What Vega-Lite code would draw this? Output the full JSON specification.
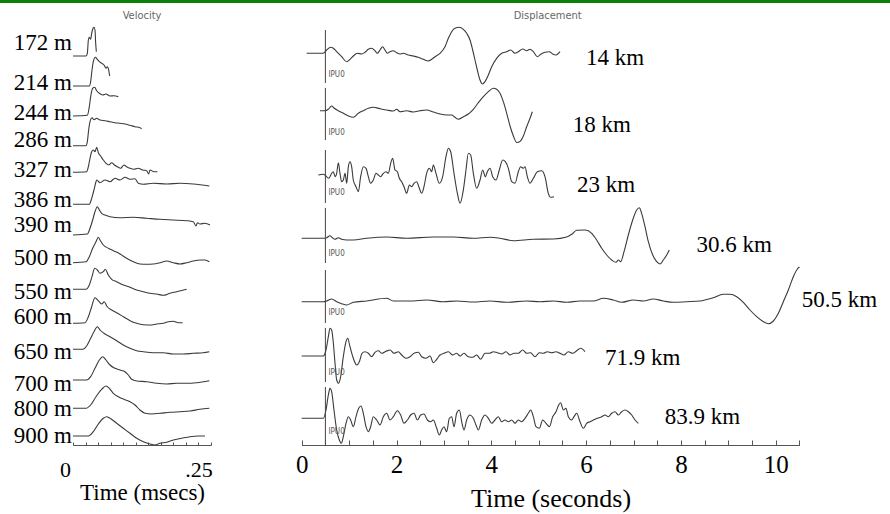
{
"$schema": "https://vega.github.io/schema/vega-lite/v6.json",
"width": 890, "height": 445,
"autosize": {"type": "none"},
"padding": {"left": 0, "top": 0, "right": 0, "bottom": 69},
"background": "white",
"config": {"view": {"stroke": null}},
"datasets": {
"vel": [
{"s":"172 m","t":0,"v":389},{"s":"172 m","t":0.0259,"v":389},{"s":"172 m","t":0.0286,"v":391.7},{"s":"172 m","t":0.0306,"v":405},{"s":"172 m","t":0.0325,"v":407.7},{"s":"172 m","t":0.0352,"v":405.7},{"s":"172 m","t":0.0372,"v":411.7},{"s":"172 m","t":0.0392,"v":415.7},{"s":"172 m","t":0.0418,"v":417.7},{"s":"172 m","t":0.0438,"v":415},{"s":"172 m","t":0.0452,"v":401.7},{"s":"172 m","t":0.0465,"v":393.3},
{"s":"214 m","t":0,"v":359},{"s":"214 m","t":0.0325,"v":359},{"s":"214 m","t":0.0352,"v":363.3},{"s":"214 m","t":0.0379,"v":375},{"s":"214 m","t":0.0405,"v":383.3},{"s":"214 m","t":0.0445,"v":387.7},{"s":"214 m","t":0.0485,"v":385.7},{"s":"214 m","t":0.0525,"v":383.3},{"s":"214 m","t":0.0571,"v":381.7},{"s":"214 m","t":0.0618,"v":380},{"s":"214 m","t":0.0658,"v":376.7},{"s":"214 m","t":0.0684,"v":378.3},{"s":"214 m","t":0.0711,"v":375},{"s":"214 m","t":0.0731,"v":369},
{"s":"244 m","t":0,"v":329},{"s":"244 m","t":0.0286,"v":329.7},{"s":"244 m","t":0.0325,"v":338.3},{"s":"244 m","t":0.0352,"v":348.3},{"s":"244 m","t":0.0392,"v":356.7},{"s":"244 m","t":0.0432,"v":357.7},{"s":"244 m","t":0.0472,"v":354.3},{"s":"244 m","t":0.0525,"v":351.7},{"s":"244 m","t":0.0591,"v":350},{"s":"244 m","t":0.0658,"v":351},{"s":"244 m","t":0.0737,"v":349},{"s":"244 m","t":0.0817,"v":349.3},{"s":"244 m","t":0.0903,"v":348.3},
{"s":"286 m","t":0,"v":299.3},{"s":"286 m","t":0.0259,"v":299.3},{"s":"286 m","t":0.0286,"v":303.3},{"s":"286 m","t":0.0312,"v":315},{"s":"286 m","t":0.0339,"v":323.3},{"s":"286 m","t":0.0379,"v":327.3},{"s":"286 m","t":0.0418,"v":325.3},{"s":"286 m","t":0.0472,"v":326.7},{"s":"286 m","t":0.0538,"v":325},{"s":"286 m","t":0.0638,"v":324.3},{"s":"286 m","t":0.0737,"v":323.3},{"s":"286 m","t":0.0837,"v":322.3},{"s":"286 m","t":0.0937,"v":321.7},{"s":"286 m","t":0.1036,"v":321},{"s":"286 m","t":0.1136,"v":319.7},{"s":"286 m","t":0.1236,"v":318.3},{"s":"286 m","t":0.1335,"v":317.3},{"s":"286 m","t":0.1368,"v":316.3},
{"s":"327 m","t":0,"v":272.7},{"s":"327 m","t":0.0272,"v":273.3},{"s":"327 m","t":0.0306,"v":278.3},{"s":"327 m","t":0.0339,"v":286.7},{"s":"327 m","t":0.0372,"v":293.3},{"s":"327 m","t":0.0405,"v":295},{"s":"327 m","t":0.0438,"v":293.3},{"s":"327 m","t":0.0472,"v":297.7},{"s":"327 m","t":0.0505,"v":292.3},{"s":"327 m","t":0.0551,"v":289},{"s":"327 m","t":0.0604,"v":285},{"s":"327 m","t":0.0658,"v":281.7},{"s":"327 m","t":0.0711,"v":280},{"s":"327 m","t":0.0771,"v":282.3},{"s":"327 m","t":0.0824,"v":280},{"s":"327 m","t":0.0883,"v":278.3},{"s":"327 m","t":0.095,"v":276.7},{"s":"327 m","t":0.1016,"v":280},{"s":"327 m","t":0.1069,"v":278.3},{"s":"327 m","t":0.1136,"v":276.7},{"s":"327 m","t":0.1216,"v":275.7},{"s":"327 m","t":0.1302,"v":276.7},{"s":"327 m","t":0.1388,"v":275},{"s":"327 m","t":0.1468,"v":274.3},{"s":"327 m","t":0.1508,"v":271},{"s":"327 m","t":0.1534,"v":275},{"s":"327 m","t":0.1614,"v":273.3},{"s":"327 m","t":0.1681,"v":273.3},
{"s":"386 m","t":0,"v":240.7},{"s":"386 m","t":0.0325,"v":240.7},{"s":"386 m","t":0.0372,"v":246.7},{"s":"386 m","t":0.0418,"v":255},{"s":"386 m","t":0.0458,"v":263.3},{"s":"386 m","t":0.0472,"v":265},{"s":"386 m","t":0.0538,"v":262.3},{"s":"386 m","t":0.0638,"v":265},{"s":"386 m","t":0.0737,"v":263.3},{"s":"386 m","t":0.0837,"v":266.7},{"s":"386 m","t":0.0937,"v":265},{"s":"386 m","t":0.1036,"v":267.7},{"s":"386 m","t":0.1136,"v":265.7},{"s":"386 m","t":0.1236,"v":266.3},{"s":"386 m","t":0.1302,"v":261.7},{"s":"386 m","t":0.1402,"v":260.7},{"s":"386 m","t":0.1601,"v":261.7},{"s":"386 m","t":0.1867,"v":261},{"s":"386 m","t":0.2132,"v":261.7},{"s":"386 m","t":0.2398,"v":261},{"s":"386 m","t":0.2717,"v":259},
{"s":"390 m","t":0,"v":210},{"s":"390 m","t":0.0286,"v":211},{"s":"390 m","t":0.0339,"v":216.7},{"s":"390 m","t":0.0392,"v":225},{"s":"390 m","t":0.0438,"v":233.3},{"s":"390 m","t":0.0485,"v":238.3},{"s":"390 m","t":0.0525,"v":235},{"s":"390 m","t":0.0571,"v":231.7},{"s":"390 m","t":0.0638,"v":230},{"s":"390 m","t":0.0737,"v":228.3},{"s":"390 m","t":0.0937,"v":227.3},{"s":"390 m","t":0.1202,"v":227.7},{"s":"390 m","t":0.1468,"v":226.7},{"s":"390 m","t":0.1734,"v":225.7},{"s":"390 m","t":0.1999,"v":225},{"s":"390 m","t":0.2265,"v":224.3},{"s":"390 m","t":0.2398,"v":223.3},{"s":"390 m","t":0.2451,"v":219},{"s":"390 m","t":0.2478,"v":222.3},{"s":"390 m","t":0.2531,"v":221},{"s":"390 m","t":0.263,"v":221.7},{"s":"390 m","t":0.273,"v":220},
{"s":"500 m","t":0,"v":182.3},{"s":"500 m","t":0.0259,"v":183.3},{"s":"500 m","t":0.0325,"v":188.3},{"s":"500 m","t":0.0392,"v":196.7},{"s":"500 m","t":0.0458,"v":203.3},{"s":"500 m","t":0.0505,"v":207.7},{"s":"500 m","t":0.0538,"v":205},{"s":"500 m","t":0.0604,"v":200},{"s":"500 m","t":0.0704,"v":196.7},{"s":"500 m","t":0.0804,"v":194.3},{"s":"500 m","t":0.0937,"v":191},{"s":"500 m","t":0.1069,"v":186.7},{"s":"500 m","t":0.1202,"v":183.3},{"s":"500 m","t":0.1335,"v":181},{"s":"500 m","t":0.1468,"v":180.7},{"s":"500 m","t":0.1601,"v":181},{"s":"500 m","t":0.1734,"v":182.3},{"s":"500 m","t":0.1867,"v":184},{"s":"500 m","t":0.1999,"v":182.3},{"s":"500 m","t":0.2132,"v":181},{"s":"500 m","t":0.2265,"v":182.3},{"s":"500 m","t":0.2398,"v":184},{"s":"500 m","t":0.2531,"v":185},{"s":"500 m","t":0.263,"v":185},{"s":"500 m","t":0.2717,"v":183.3},
{"s":"550 m","t":0,"v":155.7},{"s":"550 m","t":0.0259,"v":155.7},{"s":"550 m","t":0.0325,"v":160},{"s":"550 m","t":0.0379,"v":168.3},{"s":"550 m","t":0.0432,"v":176.7},{"s":"550 m","t":0.0485,"v":175},{"s":"550 m","t":0.0538,"v":171.7},{"s":"550 m","t":0.0604,"v":173.3},{"s":"550 m","t":0.0644,"v":175.7},{"s":"550 m","t":0.0704,"v":170},{"s":"550 m","t":0.0771,"v":165.7},{"s":"550 m","t":0.087,"v":163.3},{"s":"550 m","t":0.1003,"v":160},{"s":"550 m","t":0.1136,"v":157.7},{"s":"550 m","t":0.1269,"v":155},{"s":"550 m","t":0.1402,"v":153.3},{"s":"550 m","t":0.1534,"v":151.7},{"s":"550 m","t":0.1667,"v":151},{"s":"550 m","t":0.18,"v":149.7},{"s":"550 m","t":0.1933,"v":151.7},{"s":"550 m","t":0.2066,"v":153.3},{"s":"550 m","t":0.2199,"v":155},{"s":"550 m","t":0.2265,"v":155.7},
{"s":"600 m","t":0,"v":121.7},{"s":"600 m","t":0.0239,"v":122.3},{"s":"600 m","t":0.0306,"v":128.3},{"s":"600 m","t":0.0372,"v":138.3},{"s":"600 m","t":0.0438,"v":147.3},{"s":"600 m","t":0.0505,"v":144.3},{"s":"600 m","t":0.0571,"v":141},{"s":"600 m","t":0.0624,"v":143.3},{"s":"600 m","t":0.0671,"v":139},{"s":"600 m","t":0.0771,"v":135},{"s":"600 m","t":0.087,"v":132.3},{"s":"600 m","t":0.1003,"v":128.3},{"s":"600 m","t":0.1136,"v":124.3},{"s":"600 m","t":0.1269,"v":121.7},{"s":"600 m","t":0.1402,"v":120.3},{"s":"600 m","t":0.1534,"v":120},{"s":"600 m","t":0.1667,"v":121},{"s":"600 m","t":0.18,"v":121.7},{"s":"600 m","t":0.19,"v":123.3},{"s":"600 m","t":0.1999,"v":123.7},{"s":"600 m","t":0.2099,"v":122.3},{"s":"600 m","t":0.2185,"v":122.3},
{"s":"650 m","t":0,"v":95.7},{"s":"650 m","t":0.0193,"v":95.7},{"s":"650 m","t":0.0272,"v":99},{"s":"650 m","t":0.0352,"v":106.7},{"s":"650 m","t":0.0418,"v":113.3},{"s":"650 m","t":0.0485,"v":118.3},{"s":"650 m","t":0.0538,"v":115},{"s":"650 m","t":0.0638,"v":111},{"s":"650 m","t":0.0737,"v":108.3},{"s":"650 m","t":0.087,"v":104.3},{"s":"650 m","t":0.1003,"v":100},{"s":"650 m","t":0.1136,"v":96.7},{"s":"650 m","t":0.1269,"v":94.3},{"s":"650 m","t":0.1402,"v":93.3},{"s":"650 m","t":0.1601,"v":92.3},{"s":"650 m","t":0.18,"v":92.3},{"s":"650 m","t":0.1999,"v":91},{"s":"650 m","t":0.2199,"v":91},{"s":"650 m","t":0.2398,"v":91.7},{"s":"650 m","t":0.2597,"v":92.3},{"s":"650 m","t":0.2717,"v":93.3},
{"s":"700 m","t":0,"v":65},{"s":"700 m","t":0.0272,"v":65},{"s":"700 m","t":0.0352,"v":68.3},{"s":"700 m","t":0.0438,"v":76.7},{"s":"700 m","t":0.0525,"v":85},{"s":"700 m","t":0.0591,"v":88.3},{"s":"700 m","t":0.0658,"v":85},{"s":"700 m","t":0.0737,"v":80},{"s":"700 m","t":0.0837,"v":76.7},{"s":"700 m","t":0.0937,"v":75},{"s":"700 m","t":0.1036,"v":73.3},{"s":"700 m","t":0.1103,"v":70},{"s":"700 m","t":0.1169,"v":65.7},{"s":"700 m","t":0.1269,"v":64},{"s":"700 m","t":0.1468,"v":63.3},{"s":"700 m","t":0.1667,"v":61.7},{"s":"700 m","t":0.1867,"v":61},{"s":"700 m","t":0.2066,"v":61.7},{"s":"700 m","t":0.2265,"v":61.7},{"s":"700 m","t":0.2464,"v":62.3},{"s":"700 m","t":0.2717,"v":64.3},
{"s":"800 m","t":0,"v":36.7},{"s":"800 m","t":0.0259,"v":36.7},{"s":"800 m","t":0.0352,"v":40},{"s":"800 m","t":0.0458,"v":48.3},{"s":"800 m","t":0.0571,"v":55.7},{"s":"800 m","t":0.0658,"v":59},{"s":"800 m","t":0.0724,"v":56.7},{"s":"800 m","t":0.0804,"v":51.7},{"s":"800 m","t":0.0903,"v":48.3},{"s":"800 m","t":0.1016,"v":45.7},{"s":"800 m","t":0.1136,"v":43.3},{"s":"800 m","t":0.1236,"v":40},{"s":"800 m","t":0.1335,"v":35},{"s":"800 m","t":0.1435,"v":31.7},{"s":"800 m","t":0.1568,"v":31},{"s":"800 m","t":0.1734,"v":31.7},{"s":"800 m","t":0.1933,"v":32.7},{"s":"800 m","t":0.2132,"v":33.3},{"s":"800 m","t":0.2332,"v":34},{"s":"800 m","t":0.2531,"v":35.7},{"s":"800 m","t":0.2717,"v":36.7},
{"s":"900 m","t":0,"v":9},{"s":"900 m","t":0.0306,"v":9},{"s":"900 m","t":0.0405,"v":13.3},{"s":"900 m","t":0.0505,"v":21},{"s":"900 m","t":0.0604,"v":26.7},{"s":"900 m","t":0.0671,"v":28.3},{"s":"900 m","t":0.0737,"v":26.7},{"s":"900 m","t":0.087,"v":21.7},{"s":"900 m","t":0.1003,"v":16.7},{"s":"900 m","t":0.1136,"v":11.7},{"s":"900 m","t":0.1269,"v":6.7},{"s":"900 m","t":0.1402,"v":3.3},{"s":"900 m","t":0.1534,"v":1},{"s":"900 m","t":0.1634,"v":0},{"s":"900 m","t":0.1734,"v":1.7},{"s":"900 m","t":0.1867,"v":2.7},{"s":"900 m","t":0.1999,"v":5},{"s":"900 m","t":0.2165,"v":6.7},{"s":"900 m","t":0.2332,"v":8.3},{"s":"900 m","t":0.2498,"v":9},{"s":"900 m","t":0.263,"v":9}
],
"disp": [
{"s":"14 km","t":0.105,"v":391.7},{"s":"14 km","t":0.456,"v":391.7},{"s":"14 km","t":0.527,"v":395},{"s":"14 km","t":0.611,"v":397.7},{"s":"14 km","t":0.667,"v":396.7},{"s":"14 km","t":0.738,"v":393.3},{"s":"14 km","t":0.843,"v":388.3},{"s":"14 km","t":0.949,"v":383.3},{"s":"14 km","t":1.019,"v":385.7},{"s":"14 km","t":1.089,"v":389},{"s":"14 km","t":1.174,"v":391.7},{"s":"14 km","t":1.265,"v":391},{"s":"14 km","t":1.335,"v":392.7},{"s":"14 km","t":1.406,"v":395.7},{"s":"14 km","t":1.476,"v":396.7},{"s":"14 km","t":1.546,"v":394.3},{"s":"14 km","t":1.596,"v":391.7},{"s":"14 km","t":1.652,"v":395},{"s":"14 km","t":1.708,"v":398.3},{"s":"14 km","t":1.757,"v":395},{"s":"14 km","t":1.807,"v":391.7},{"s":"14 km","t":1.863,"v":393.3},{"s":"14 km","t":1.933,"v":394.3},{"s":"14 km","t":2.003,"v":392.3},{"s":"14 km","t":2.074,"v":391},{"s":"14 km","t":2.144,"v":391.7},{"s":"14 km","t":2.25,"v":390},{"s":"14 km","t":2.355,"v":389},{"s":"14 km","t":2.461,"v":387.7},{"s":"14 km","t":2.566,"v":385.7},{"s":"14 km","t":2.672,"v":384},{"s":"14 km","t":2.742,"v":385.7},{"s":"14 km","t":2.812,"v":388.3},{"s":"14 km","t":2.918,"v":391.7},{"s":"14 km","t":3.023,"v":398.3},{"s":"14 km","t":3.094,"v":406.7},{"s":"14 km","t":3.164,"v":413.3},{"s":"14 km","t":3.234,"v":416.7},{"s":"14 km","t":3.326,"v":417.7},{"s":"14 km","t":3.41,"v":415.7},{"s":"14 km","t":3.48,"v":411.7},{"s":"14 km","t":3.551,"v":405},{"s":"14 km","t":3.607,"v":395},{"s":"14 km","t":3.656,"v":385},{"s":"14 km","t":3.705,"v":375},{"s":"14 km","t":3.762,"v":365},{"s":"14 km","t":3.811,"v":361},{"s":"14 km","t":3.867,"v":363.3},{"s":"14 km","t":3.938,"v":370},{"s":"14 km","t":4.008,"v":378.3},{"s":"14 km","t":4.113,"v":386.7},{"s":"14 km","t":4.219,"v":391.7},{"s":"14 km","t":4.324,"v":393.3},{"s":"14 km","t":4.409,"v":395},{"s":"14 km","t":4.5,"v":391.7},{"s":"14 km","t":4.57,"v":393.3},{"s":"14 km","t":4.662,"v":396},{"s":"14 km","t":4.746,"v":394.3},{"s":"14 km","t":4.816,"v":395.7},{"s":"14 km","t":4.887,"v":393.3},{"s":"14 km","t":4.972,"v":388.3},{"s":"14 km","t":5.042,"v":390.7},{"s":"14 km","t":5.133,"v":392.7},{"s":"14 km","t":5.225,"v":393.3},{"s":"14 km","t":5.295,"v":391},{"s":"14 km","t":5.365,"v":390},{"s":"14 km","t":5.45,"v":393.3},
{"s":"18 km","t":0.386,"v":334.3},{"s":"18 km","t":0.492,"v":334.3},{"s":"18 km","t":0.562,"v":335.7},{"s":"18 km","t":0.632,"v":339},{"s":"18 km","t":0.689,"v":336.7},{"s":"18 km","t":0.773,"v":334.3},{"s":"18 km","t":0.879,"v":331.7},{"s":"18 km","t":0.984,"v":329},{"s":"18 km","t":1.089,"v":327.7},{"s":"18 km","t":1.195,"v":331.7},{"s":"18 km","t":1.3,"v":334.3},{"s":"18 km","t":1.406,"v":336.7},{"s":"18 km","t":1.511,"v":337.7},{"s":"18 km","t":1.652,"v":336.3},{"s":"18 km","t":1.793,"v":335},{"s":"18 km","t":1.933,"v":334},{"s":"18 km","t":2.003,"v":335.7},{"s":"18 km","t":2.074,"v":333.3},{"s":"18 km","t":2.215,"v":334.3},{"s":"18 km","t":2.355,"v":333},{"s":"18 km","t":2.496,"v":334.3},{"s":"18 km","t":2.637,"v":335},{"s":"18 km","t":2.777,"v":333},{"s":"18 km","t":2.918,"v":331},{"s":"18 km","t":3.058,"v":330},{"s":"18 km","t":3.164,"v":330},{"s":"18 km","t":3.234,"v":327.7},{"s":"18 km","t":3.305,"v":325.7},{"s":"18 km","t":3.41,"v":328.3},{"s":"18 km","t":3.516,"v":331},{"s":"18 km","t":3.621,"v":335.7},{"s":"18 km","t":3.727,"v":342.3},{"s":"18 km","t":3.833,"v":348.3},{"s":"18 km","t":3.938,"v":353.3},{"s":"18 km","t":4.043,"v":356.7},{"s":"18 km","t":4.113,"v":355.7},{"s":"18 km","t":4.184,"v":351.7},{"s":"18 km","t":4.254,"v":343.3},{"s":"18 km","t":4.325,"v":331.7},{"s":"18 km","t":4.395,"v":319},{"s":"18 km","t":4.466,"v":309},{"s":"18 km","t":4.537,"v":302.5},{"s":"18 km","t":4.605,"v":303.5},{"s":"18 km","t":4.676,"v":309},{"s":"18 km","t":4.746,"v":318.3},{"s":"18 km","t":4.817,"v":326.7},{"s":"18 km","t":4.866,"v":333.3},
{"s":"23 km","t":0.351,"v":270},{"s":"23 km","t":0.456,"v":270.7},{"s":"23 km","t":0.513,"v":269},{"s":"23 km","t":0.562,"v":266.7},{"s":"23 km","t":0.597,"v":268.3},{"s":"23 km","t":0.632,"v":271.7},{"s":"23 km","t":0.668,"v":273.3},{"s":"23 km","t":0.703,"v":268.3},{"s":"23 km","t":0.738,"v":271.7},{"s":"23 km","t":0.773,"v":282.3},{"s":"23 km","t":0.808,"v":271.7},{"s":"23 km","t":0.843,"v":263.3},{"s":"23 km","t":0.878,"v":265},{"s":"23 km","t":0.914,"v":271.7},{"s":"23 km","t":0.949,"v":261.7},{"s":"23 km","t":0.984,"v":278.3},{"s":"23 km","t":1.019,"v":283.3},{"s":"23 km","t":1.054,"v":278.3},{"s":"23 km","t":1.089,"v":265},{"s":"23 km","t":1.146,"v":258.3},{"s":"23 km","t":1.195,"v":253.3},{"s":"23 km","t":1.244,"v":268.3},{"s":"23 km","t":1.3,"v":278.3},{"s":"23 km","t":1.357,"v":276.7},{"s":"23 km","t":1.406,"v":268.3},{"s":"23 km","t":1.455,"v":261.7},{"s":"23 km","t":1.511,"v":265},{"s":"23 km","t":1.568,"v":271.7},{"s":"23 km","t":1.617,"v":270},{"s":"23 km","t":1.666,"v":268.3},{"s":"23 km","t":1.722,"v":271.7},{"s":"23 km","t":1.779,"v":273.3},{"s":"23 km","t":1.828,"v":271.7},{"s":"23 km","t":1.877,"v":281.7},{"s":"23 km","t":1.919,"v":286.7},{"s":"23 km","t":1.968,"v":275},{"s":"23 km","t":2.018,"v":273.3},{"s":"23 km","t":2.06,"v":266.7},{"s":"23 km","t":2.109,"v":263.3},{"s":"23 km","t":2.158,"v":258.3},{"s":"23 km","t":2.215,"v":251.7},{"s":"23 km","t":2.271,"v":260},{"s":"23 km","t":2.32,"v":258.3},{"s":"23 km","t":2.37,"v":261.7},{"s":"23 km","t":2.425,"v":263.3},{"s":"23 km","t":2.482,"v":256.7},{"s":"23 km","t":2.531,"v":251.7},{"s":"23 km","t":2.58,"v":258.3},{"s":"23 km","t":2.636,"v":271.7},{"s":"23 km","t":2.693,"v":276.7},{"s":"23 km","t":2.742,"v":273.3},{"s":"23 km","t":2.777,"v":280},{"s":"23 km","t":2.833,"v":271.7},{"s":"23 km","t":2.904,"v":261.7},{"s":"23 km","t":2.974,"v":268.3},{"s":"23 km","t":3.044,"v":288.3},{"s":"23 km","t":3.094,"v":296.7},{"s":"23 km","t":3.143,"v":293.3},{"s":"23 km","t":3.213,"v":271.7},{"s":"23 km","t":3.284,"v":251.7},{"s":"23 km","t":3.34,"v":241.7},{"s":"23 km","t":3.41,"v":255},{"s":"23 km","t":3.466,"v":275},{"s":"23 km","t":3.516,"v":291.7},{"s":"23 km","t":3.565,"v":290},{"s":"23 km","t":3.621,"v":271.7},{"s":"23 km","t":3.692,"v":256.7},{"s":"23 km","t":3.762,"v":265},{"s":"23 km","t":3.818,"v":275},{"s":"23 km","t":3.874,"v":268.3},{"s":"23 km","t":3.917,"v":273.3},{"s":"23 km","t":3.973,"v":276.7},{"s":"23 km","t":4.029,"v":268.3},{"s":"23 km","t":4.099,"v":265},{"s":"23 km","t":4.169,"v":275},{"s":"23 km","t":4.24,"v":285},{"s":"23 km","t":4.296,"v":283.3},{"s":"23 km","t":4.36,"v":276.7},{"s":"23 km","t":4.43,"v":263.3},{"s":"23 km","t":4.5,"v":261.7},{"s":"23 km","t":4.57,"v":273.3},{"s":"23 km","t":4.62,"v":278.3},{"s":"23 km","t":4.676,"v":276.7},{"s":"23 km","t":4.711,"v":278.3},{"s":"23 km","t":4.76,"v":268.3},{"s":"23 km","t":4.817,"v":261.7},{"s":"23 km","t":4.887,"v":266.7},{"s":"23 km","t":4.972,"v":273.3},{"s":"23 km","t":5.063,"v":274.3},{"s":"23 km","t":5.133,"v":268.3},{"s":"23 km","t":5.203,"v":251.7},{"s":"23 km","t":5.253,"v":247.7},{"s":"23 km","t":5.323,"v":248.3},
{"s":"30.6 km","t":0,"v":206.7},{"s":"30.6 km","t":0.456,"v":206.7},{"s":"30.6 km","t":0.527,"v":207.3},{"s":"30.6 km","t":0.597,"v":209.3},{"s":"30.6 km","t":0.646,"v":207.3},{"s":"30.6 km","t":0.703,"v":205.7},{"s":"30.6 km","t":0.773,"v":207.3},{"s":"30.6 km","t":0.843,"v":205.7},{"s":"30.6 km","t":0.949,"v":205},{"s":"30.6 km","t":1.089,"v":205},{"s":"30.6 km","t":1.371,"v":206.7},{"s":"30.6 km","t":1.793,"v":208},{"s":"30.6 km","t":2.215,"v":206.7},{"s":"30.6 km","t":2.777,"v":208},{"s":"30.6 km","t":3.199,"v":208},{"s":"30.6 km","t":3.621,"v":206.7},{"s":"30.6 km","t":3.973,"v":207.7},{"s":"30.6 km","t":4.184,"v":206.7},{"s":"30.6 km","t":4.466,"v":204.3},{"s":"30.6 km","t":4.886,"v":205.7},{"s":"30.6 km","t":5.309,"v":206},{"s":"30.6 km","t":5.59,"v":208},{"s":"30.6 km","t":5.696,"v":210.7},{"s":"30.6 km","t":5.802,"v":214.7},{"s":"30.6 km","t":5.977,"v":215},{"s":"30.6 km","t":6.118,"v":211.7},{"s":"30.6 km","t":6.223,"v":205},{"s":"30.6 km","t":6.329,"v":196.7},{"s":"30.6 km","t":6.434,"v":190},{"s":"30.6 km","t":6.54,"v":185},{"s":"30.6 km","t":6.632,"v":182.7},{"s":"30.6 km","t":6.681,"v":185},{"s":"30.6 km","t":6.73,"v":183.3},{"s":"30.6 km","t":6.8,"v":193.3},{"s":"30.6 km","t":6.891,"v":210},{"s":"30.6 km","t":6.983,"v":225},{"s":"30.6 km","t":7.067,"v":235},{"s":"30.6 km","t":7.123,"v":237.3},{"s":"30.6 km","t":7.172,"v":231.7},{"s":"30.6 km","t":7.243,"v":218.3},{"s":"30.6 km","t":7.313,"v":203.3},{"s":"30.6 km","t":7.405,"v":190},{"s":"30.6 km","t":7.489,"v":183.3},{"s":"30.6 km","t":7.559,"v":181},{"s":"30.6 km","t":7.629,"v":185},{"s":"30.6 km","t":7.7,"v":190},{"s":"30.6 km","t":7.756,"v":195},
{"s":"50.5 km","t":0,"v":143.3},{"s":"50.5 km","t":0.456,"v":143.3},{"s":"50.5 km","t":0.527,"v":144},{"s":"50.5 km","t":0.632,"v":146},{"s":"50.5 km","t":0.738,"v":143.3},{"s":"50.5 km","t":0.843,"v":141.3},{"s":"50.5 km","t":0.949,"v":140},{"s":"50.5 km","t":1.089,"v":142.7},{"s":"50.5 km","t":1.371,"v":144},{"s":"50.5 km","t":1.793,"v":146.7},{"s":"50.5 km","t":1.933,"v":144},{"s":"50.5 km","t":2.285,"v":144},{"s":"50.5 km","t":2.637,"v":145},{"s":"50.5 km","t":2.988,"v":143.3},{"s":"50.5 km","t":3.27,"v":144},{"s":"50.5 km","t":3.621,"v":143},{"s":"50.5 km","t":3.973,"v":144},{"s":"50.5 km","t":4.324,"v":142.7},{"s":"50.5 km","t":4.746,"v":144},{"s":"50.5 km","t":5.027,"v":143.3},{"s":"50.5 km","t":5.309,"v":144},{"s":"50.5 km","t":5.59,"v":142.7},{"s":"50.5 km","t":5.871,"v":144},{"s":"50.5 km","t":6.153,"v":144},{"s":"50.5 km","t":6.364,"v":146.7},{"s":"50.5 km","t":6.575,"v":145},{"s":"50.5 km","t":6.751,"v":142.7},{"s":"50.5 km","t":6.997,"v":145},{"s":"50.5 km","t":7.208,"v":144},{"s":"50.5 km","t":7.418,"v":146},{"s":"50.5 km","t":7.629,"v":144},{"s":"50.5 km","t":7.84,"v":142.7},{"s":"50.5 km","t":8.122,"v":143.3},{"s":"50.5 km","t":8.403,"v":144},{"s":"50.5 km","t":8.684,"v":147.3},{"s":"50.5 km","t":8.895,"v":150.7},{"s":"50.5 km","t":9.036,"v":150.7},{"s":"50.5 km","t":9.177,"v":148.3},{"s":"50.5 km","t":9.318,"v":142.7},{"s":"50.5 km","t":9.458,"v":135},{"s":"50.5 km","t":9.599,"v":128.3},{"s":"50.5 km","t":9.74,"v":123.3},{"s":"50.5 km","t":9.845,"v":121.3},{"s":"50.5 km","t":9.951,"v":124},{"s":"50.5 km","t":10.056,"v":131.7},{"s":"50.5 km","t":10.161,"v":143.3},{"s":"50.5 km","t":10.267,"v":155},{"s":"50.5 km","t":10.372,"v":168.3},{"s":"50.5 km","t":10.457,"v":176},{"s":"50.5 km","t":10.5,"v":178},
{"s":"71.9 km","t":0,"v":89},{"s":"71.9 km","t":0.456,"v":89},{"s":"71.9 km","t":0.513,"v":95},{"s":"71.9 km","t":0.562,"v":108.3},{"s":"71.9 km","t":0.597,"v":116.7},{"s":"71.9 km","t":0.632,"v":115},{"s":"71.9 km","t":0.668,"v":101.7},{"s":"71.9 km","t":0.703,"v":81.7},{"s":"71.9 km","t":0.738,"v":65},{"s":"71.9 km","t":0.78,"v":61.7},{"s":"71.9 km","t":0.822,"v":68.3},{"s":"71.9 km","t":0.878,"v":88.3},{"s":"71.9 km","t":0.935,"v":103.3},{"s":"71.9 km","t":0.97,"v":106.7},{"s":"71.9 km","t":1.019,"v":98.3},{"s":"71.9 km","t":1.089,"v":86.7},{"s":"71.9 km","t":1.16,"v":80},{"s":"71.9 km","t":1.216,"v":83.3},{"s":"71.9 km","t":1.272,"v":91.7},{"s":"71.9 km","t":1.335,"v":93.3},{"s":"71.9 km","t":1.406,"v":91.7},{"s":"71.9 km","t":1.476,"v":88.3},{"s":"71.9 km","t":1.546,"v":92.7},{"s":"71.9 km","t":1.617,"v":94.3},{"s":"71.9 km","t":1.687,"v":91.7},{"s":"71.9 km","t":1.779,"v":93.7},{"s":"71.9 km","t":1.863,"v":95},{"s":"71.9 km","t":1.948,"v":91.7},{"s":"71.9 km","t":2.039,"v":93.3},{"s":"71.9 km","t":2.109,"v":90},{"s":"71.9 km","t":2.201,"v":86.7},{"s":"71.9 km","t":2.285,"v":88.3},{"s":"71.9 km","t":2.37,"v":91.7},{"s":"71.9 km","t":2.461,"v":92.7},{"s":"71.9 km","t":2.531,"v":88.3},{"s":"71.9 km","t":2.622,"v":86.7},{"s":"71.9 km","t":2.707,"v":89},{"s":"71.9 km","t":2.777,"v":82.3},{"s":"71.9 km","t":2.848,"v":85.7},{"s":"71.9 km","t":2.918,"v":90},{"s":"71.9 km","t":3.002,"v":91.7},{"s":"71.9 km","t":3.094,"v":93.3},{"s":"71.9 km","t":3.185,"v":90},{"s":"71.9 km","t":3.269,"v":91.7},{"s":"71.9 km","t":3.34,"v":89},{"s":"71.9 km","t":3.424,"v":91.7},{"s":"71.9 km","t":3.516,"v":88.3},{"s":"71.9 km","t":3.607,"v":87.7},{"s":"71.9 km","t":3.692,"v":90},{"s":"71.9 km","t":3.776,"v":85.7},{"s":"71.9 km","t":3.867,"v":91.7},{"s":"71.9 km","t":3.959,"v":91.7},{"s":"71.9 km","t":4.043,"v":93.3},{"s":"71.9 km","t":4.127,"v":92.3},{"s":"71.9 km","t":4.219,"v":91},{"s":"71.9 km","t":4.31,"v":93.3},{"s":"71.9 km","t":4.395,"v":90},{"s":"71.9 km","t":4.479,"v":91.7},{"s":"71.9 km","t":4.57,"v":91.7},{"s":"71.9 km","t":4.662,"v":95},{"s":"71.9 km","t":4.746,"v":91.7},{"s":"71.9 km","t":4.83,"v":92.3},{"s":"71.9 km","t":4.922,"v":88.3},{"s":"71.9 km","t":5.014,"v":92.3},{"s":"71.9 km","t":5.098,"v":91.7},{"s":"71.9 km","t":5.182,"v":93.3},{"s":"71.9 km","t":5.274,"v":92.3},{"s":"71.9 km","t":5.365,"v":93.3},{"s":"71.9 km","t":5.45,"v":91.7},{"s":"71.9 km","t":5.534,"v":90},{"s":"71.9 km","t":5.625,"v":93.3},{"s":"71.9 km","t":5.717,"v":91.7},{"s":"71.9 km","t":5.801,"v":94.3},{"s":"71.9 km","t":5.886,"v":96.7},{"s":"71.9 km","t":5.977,"v":93.3},
{"s":"83.9 km","t":0,"v":26.7},{"s":"83.9 km","t":0.456,"v":26.7},{"s":"83.9 km","t":0.513,"v":35},{"s":"83.9 km","t":0.562,"v":50},{"s":"83.9 km","t":0.597,"v":56.7},{"s":"83.9 km","t":0.632,"v":53.3},{"s":"83.9 km","t":0.681,"v":35},{"s":"83.9 km","t":0.738,"v":15},{"s":"83.9 km","t":0.794,"v":5},{"s":"83.9 km","t":0.836,"v":1.7},{"s":"83.9 km","t":0.878,"v":8.3},{"s":"83.9 km","t":0.935,"v":21.7},{"s":"83.9 km","t":0.984,"v":28.3},{"s":"83.9 km","t":1.033,"v":25},{"s":"83.9 km","t":1.089,"v":18.3},{"s":"83.9 km","t":1.146,"v":28.3},{"s":"83.9 km","t":1.202,"v":36.7},{"s":"83.9 km","t":1.252,"v":39},{"s":"83.9 km","t":1.3,"v":31.7},{"s":"83.9 km","t":1.357,"v":18.3},{"s":"83.9 km","t":1.406,"v":13.3},{"s":"83.9 km","t":1.455,"v":18.3},{"s":"83.9 km","t":1.511,"v":28.3},{"s":"83.9 km","t":1.582,"v":25},{"s":"83.9 km","t":1.652,"v":20},{"s":"83.9 km","t":1.722,"v":28.3},{"s":"83.9 km","t":1.793,"v":31.7},{"s":"83.9 km","t":1.863,"v":25},{"s":"83.9 km","t":1.933,"v":28.3},{"s":"83.9 km","t":2.018,"v":34.3},{"s":"83.9 km","t":2.088,"v":30},{"s":"83.9 km","t":2.158,"v":21.7},{"s":"83.9 km","t":2.229,"v":25},{"s":"83.9 km","t":2.299,"v":30},{"s":"83.9 km","t":2.37,"v":31.7},{"s":"83.9 km","t":2.44,"v":25},{"s":"83.9 km","t":2.511,"v":30},{"s":"83.9 km","t":2.58,"v":31},{"s":"83.9 km","t":2.651,"v":25},{"s":"83.9 km","t":2.721,"v":23.3},{"s":"83.9 km","t":2.777,"v":25},{"s":"83.9 km","t":2.848,"v":16.7},{"s":"83.9 km","t":2.904,"v":10},{"s":"83.9 km","t":2.953,"v":15},{"s":"83.9 km","t":3.002,"v":18.3},{"s":"83.9 km","t":3.058,"v":13.3},{"s":"83.9 km","t":3.115,"v":26.7},{"s":"83.9 km","t":3.164,"v":28.3},{"s":"83.9 km","t":3.213,"v":18.3},{"s":"83.9 km","t":3.269,"v":31.7},{"s":"83.9 km","t":3.326,"v":35},{"s":"83.9 km","t":3.382,"v":21.7},{"s":"83.9 km","t":3.424,"v":15},{"s":"83.9 km","t":3.48,"v":25},{"s":"83.9 km","t":3.551,"v":30},{"s":"83.9 km","t":3.621,"v":26.7},{"s":"83.9 km","t":3.677,"v":20},{"s":"83.9 km","t":3.727,"v":15},{"s":"83.9 km","t":3.797,"v":25},{"s":"83.9 km","t":3.867,"v":30},{"s":"83.9 km","t":3.938,"v":26.7},{"s":"83.9 km","t":4.008,"v":21.7},{"s":"83.9 km","t":4.078,"v":25},{"s":"83.9 km","t":4.148,"v":28.3},{"s":"83.9 km","t":4.219,"v":23.3},{"s":"83.9 km","t":4.289,"v":25},{"s":"83.9 km","t":4.36,"v":23.3},{"s":"83.9 km","t":4.43,"v":25},{"s":"83.9 km","t":4.5,"v":21.7},{"s":"83.9 km","t":4.57,"v":25},{"s":"83.9 km","t":4.641,"v":23.3},{"s":"83.9 km","t":4.711,"v":26.7},{"s":"83.9 km","t":4.781,"v":31.7},{"s":"83.9 km","t":4.831,"v":35},{"s":"83.9 km","t":4.887,"v":28.3},{"s":"83.9 km","t":4.943,"v":18.3},{"s":"83.9 km","t":5.014,"v":16.7},{"s":"83.9 km","t":5.084,"v":25},{"s":"83.9 km","t":5.154,"v":21.7},{"s":"83.9 km","t":5.225,"v":18.3},{"s":"83.9 km","t":5.295,"v":28.3},{"s":"83.9 km","t":5.365,"v":33.3},{"s":"83.9 km","t":5.421,"v":40},{"s":"83.9 km","t":5.463,"v":42.3},{"s":"83.9 km","t":5.52,"v":35},{"s":"83.9 km","t":5.576,"v":36.7},{"s":"83.9 km","t":5.625,"v":28.3},{"s":"83.9 km","t":5.696,"v":25},{"s":"83.9 km","t":5.745,"v":28.3},{"s":"83.9 km","t":5.801,"v":31.7},{"s":"83.9 km","t":5.872,"v":23.3},{"s":"83.9 km","t":5.942,"v":16.7},{"s":"83.9 km","t":6.012,"v":21.7},{"s":"83.9 km","t":6.083,"v":23.3},{"s":"83.9 km","t":6.153,"v":25},{"s":"83.9 km","t":6.238,"v":26.7},{"s":"83.9 km","t":6.329,"v":28.3},{"s":"83.9 km","t":6.399,"v":30},{"s":"83.9 km","t":6.469,"v":28.3},{"s":"83.9 km","t":6.54,"v":31.7},{"s":"83.9 km","t":6.61,"v":33.3},{"s":"83.9 km","t":6.681,"v":30},{"s":"83.9 km","t":6.751,"v":33.3},{"s":"83.9 km","t":6.821,"v":35},{"s":"83.9 km","t":6.891,"v":33.3},{"s":"83.9 km","t":6.962,"v":30},{"s":"83.9 km","t":7.032,"v":25},{"s":"83.9 km","t":7.102,"v":21.7}
],
"vlab": [
{"s":"172 m","t":0,"v":402},{"s":"214 m","t":0,"v":362},{"s":"244 m","t":0,"v":332},{"s":"286 m","t":0,"v":305.3},{"s":"327 m","t":0,"v":275},{"s":"386 m","t":0,"v":245},{"s":"390 m","t":0,"v":220},{"s":"500 m","t":0,"v":186.7},{"s":"550 m","t":0,"v":153.3},{"s":"600 m","t":0,"v":128.3},{"s":"650 m","t":0,"v":93.3},{"s":"700 m","t":0,"v":61},{"s":"800 m","t":0,"v":35.7},{"s":"900 m","t":0,"v":9}
],
"dlab": [
{"s":"14 km","t":6.0,"v":387},{"s":"18 km","t":5.72,"v":320},{"s":"23 km","t":5.81,"v":260},{"s":"30.6 km","t":8.33,"v":200},{"s":"50.5 km","t":10.55,"v":145},{"s":"71.9 km","t":6.4,"v":86.7},{"s":"83.9 km","t":7.66,"v":28.3}
],
"ipu": [
{"s":"14 km","t":0.5,"top":415,"bot":362,"lab":370},{"s":"18 km","t":0.5,"top":357,"bot":305,"lab":312},{"s":"23 km","t":0.5,"top":295,"bot":242,"lab":252},{"s":"30.6 km","t":0.5,"top":237,"bot":182,"lab":191},{"s":"50.5 km","t":0.5,"top":175,"bot":122,"lab":131.7},{"s":"71.9 km","t":0.5,"top":117,"bot":63,"lab":72},{"s":"83.9 km","t":0.5,"top":58,"bot":0,"lab":13}
],
"heads": [
{"panel":"Velocity","t":0.1375,"v":429},
{"panel":"Displacement","t":5.19,"v":429}
],
"frame": [{"edge":"top","v":443.5}]
},
"layer": [
{
"layer": [
{"data": {"name": "vel"},
 "mark": {"type": "line", "color": "#3a3a3a", "strokeWidth": 1.1, "interpolate": "monotone"},
 "encoding": {
  "x": {"field": "t", "type": "quantitative",
   "scale": {"domain": [0, 0.275], "range": [73, 211], "nice": false, "zero": false},
   "axis": {"orient": "bottom", "title": "Time (msecs)", "values": [0,0.025,0.05,0.075,0.1,0.125,0.15,0.175,0.2,0.225,0.25,0.275],
     "labelExpr": "datum.value == 0 ? '0' : (abs(datum.value - 0.25) < 0.0001 ? '.25' : '')",
     "labelOffset": {"condition": {"test": "datum.value == 0", "value": -8}, "value": 0},
     "grid": false, "tickSize": -3, "tickColor": "#555", "domainColor": "#555", "labelPadding": 17,
     "labelFont": "Liberation Serif, Times New Roman, DejaVu Serif, serif", "labelFontSize": 22, "labelColor": "#000", "labelFlush": false, "labelOverlap": false,
     "titleFont": "Liberation Serif, Times New Roman, DejaVu Serif, serif", "titleFontSize": 23, "titleFontWeight": "normal", "titleColor": "#000", "titlePadding": 1}},
  "y": {"field": "v", "type": "quantitative", "scale": {"domain": [0, 445], "nice": false, "zero": false}, "axis": null},
  "detail": {"field": "s"}
 }},
{"data": {"name": "vlab"},
 "mark": {"type": "text", "align": "right", "baseline": "middle", "dx": -1, "font": "Liberation Serif, Times New Roman, DejaVu Serif, serif", "fontSize": 23, "color": "#000"},
 "encoding": {
  "x": {"field": "t", "type": "quantitative"},
  "y": {"field": "v", "type": "quantitative"},
  "text": {"field": "s"}
 }},
{"data": {"name": "heads"},
 "transform": [{"filter": "datum.panel == 'Velocity'"}],
 "mark": {"type": "text", "align": "center", "baseline": "middle", "font": "DejaVu Sans Condensed, Liberation Sans Narrow, Liberation Sans, sans-serif", "fontSize": 11, "color": "#666"},
 "encoding": {
  "x": {"field": "t", "type": "quantitative"},
  "y": {"field": "v", "type": "quantitative"},
  "text": {"field": "panel"}
 }}
]
},
{
"layer": [
{"data": {"name": "disp"},
 "mark": {"type": "line", "color": "#3a3a3a", "strokeWidth": 1.1, "interpolate": "monotone"},
 "encoding": {
  "x": {"field": "t", "type": "quantitative",
   "scale": {"domain": [0, 10.5], "range": [301.7, 799.4], "nice": false, "zero": false},
   "axis": {"orient": "bottom", "title": "Time (seconds)", "values": [0,0.5,1,1.5,2,2.5,3,3.5,4,4.5,5,5.5,6,6.5,7,7.5,8,8.5,9,9.5,10,10.5],
     "labelExpr": "datum.value % 2 == 0 ? toString(datum.value) : ''",
     "grid": false, "tickSize": -5, "tickColor": "#555", "domainColor": "#555", "labelPadding": 12,
     "labelFont": "Liberation Serif, Times New Roman, DejaVu Serif, serif", "labelFontSize": 25, "labelColor": "#000", "labelFlush": false, "labelOverlap": false,
     "titleFont": "Liberation Serif, Times New Roman, DejaVu Serif, serif", "titleFontSize": 26, "titleFontWeight": "normal", "titleColor": "#000", "titlePadding": 8}},
  "y": {"field": "v", "type": "quantitative"},
  "detail": {"field": "s"}
 }},
{"data": {"name": "ipu"},
 "mark": {"type": "rule", "color": "#444", "strokeWidth": 1},
 "encoding": {
  "x": {"field": "t", "type": "quantitative"},
  "y": {"field": "top", "type": "quantitative"},
  "y2": {"field": "bot"}
 }},
{"data": {"name": "ipu"},
 "mark": {"type": "text", "align": "left", "baseline": "middle", "dx": 3, "font": "DejaVu Sans Condensed, Liberation Sans, sans-serif", "fontSize": 8, "color": "#555"},
 "encoding": {
  "x": {"field": "t", "type": "quantitative"},
  "y": {"field": "lab", "type": "quantitative"},
  "text": {"value": "IPU0"}
 }},
{"data": {"name": "dlab"},
 "mark": {"type": "text", "align": "left", "baseline": "middle", "font": "Liberation Serif, Times New Roman, DejaVu Serif, serif", "fontSize": 23, "color": "#000"},
 "encoding": {
  "x": {"field": "t", "type": "quantitative"},
  "y": {"field": "v", "type": "quantitative"},
  "text": {"field": "s"}
 }},
{"data": {"name": "heads"},
 "transform": [{"filter": "datum.panel == 'Displacement'"}],
 "mark": {"type": "text", "align": "center", "baseline": "middle", "font": "DejaVu Sans Condensed, Liberation Sans Narrow, Liberation Sans, sans-serif", "fontSize": 11, "color": "#666"},
 "encoding": {
  "x": {"field": "t", "type": "quantitative"},
  "y": {"field": "v", "type": "quantitative"},
  "text": {"field": "panel"}
 }}
]
},
{"data": {"name": "frame"},
 "mark": {"type": "rule", "color": "#0a800a", "strokeWidth": 3},
 "encoding": {"y": {"field": "v", "type": "quantitative"}}}
],
"resolve": {"scale": {"x": "independent"}, "axis": {"x": "independent"}}
}
